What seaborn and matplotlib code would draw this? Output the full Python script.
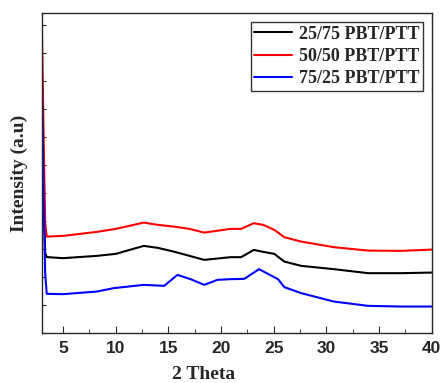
import numpy as np
import pandas as pd
import seaborn as sns
import matplotlib.pyplot as plt
from matplotlib.ticker import MultipleLocator

two_theta_a = [3.0, 3.15, 3.3, 3.45, 5.0, 8.2, 10.0, 12.66, 14.0, 15.5, 17.0, 18.4, 20.9,
               21.9, 23.1, 24.0, 25.05, 26.0, 27.6, 30.7, 33.95, 37.1, 40.0]
two_theta_blue = [3.0, 3.15, 3.3, 3.45, 5.0, 8.2, 9.8, 12.66, 14.6, 15.85, 17.1, 18.4, 19.65,
                  20.9, 22.2, 23.6, 25.4, 26.0, 27.6, 30.7, 33.95, 37.1, 40.0]

# intensities (arbitrary units)
pbt_25_75 = [2600, 1500, 800, 758, 747, 770, 790, 870, 850, 813, 770, 730, 757,
             757, 830, 810, 790, 713, 670, 637, 597, 597, 603]
pbt_50_50 = [2980, 2000, 1100, 963, 970, 1010, 1040, 1103, 1080, 1063, 1040, 1003, 1040,
             1040, 1097, 1080, 1030, 957, 913, 857, 823, 820, 833]
pbt_75_25 = [2480, 1400, 600, 390, 387, 413, 447, 480, 470, 580, 537, 480, 530,
             537, 540, 637, 537, 457, 397, 313, 270, 263, 263]

labels = ["25/75 PBT/PTT", "50/50 PBT/PTT", "75/25 PBT/PTT"]
colors = ["black", "red", "blue"]

df = pd.concat([
    pd.DataFrame({"theta": two_theta_a, "I": pbt_25_75, "blend": labels[0]}),
    pd.DataFrame({"theta": two_theta_a, "I": pbt_50_50, "blend": labels[1]}),
    pd.DataFrame({"theta": two_theta_blue, "I": pbt_75_25, "blend": labels[2]}),
])

sns.set_style("ticks")
plt.rcParams["font.family"] = ["Liberation Serif", "DejaVu Serif"]
plt.rcParams["font.weight"] = "bold"

fig = plt.figure(figsize=(4.42, 3.83), dpi=100)
ax = fig.add_axes([0.095, 0.131, 0.882, 0.835])

sns.lineplot(data=df, x="theta", y="I", hue="blend", palette=colors,
             hue_order=labels, sort=False, linewidth=1.5, ax=ax)

ax.set_xlim(3, 40)
ax.set_ylim(0, 3200)
ax.xaxis.set_major_locator(MultipleLocator(5))
ax.xaxis.set_minor_locator(MultipleLocator(2.5))
ax.yaxis.set_major_locator(MultipleLocator(280))
ax.set_yticklabels([])
ax.tick_params(direction="in", which="both", top=False, right=False)
ax.tick_params(axis="x", labelsize=12.5, length=5, pad=6)
ax.tick_params(axis="x", which="minor", length=3)
ax.tick_params(axis="y", length=3)
for t in ax.get_xticklabels():
    t.set_fontweight("bold")
    t.set_fontfamily(["Liberation Sans", "DejaVu Sans"])
for s in ax.spines.values():
    s.set_linewidth(1.0)

ax.set_xlabel("2 Theta", fontsize=14, fontweight="bold", labelpad=0)
ax.xaxis.set_label_coords(0.415, -0.105)
ax.set_ylabel("Intensity (a.u)", fontsize=14, fontweight="bold")
ax.yaxis.set_label_coords(-0.036, 0.5)

leg = ax.legend(loc="upper right", fontsize=13, frameon=True, fancybox=False,
                edgecolor="black", handlelength=2.1, handletextpad=0.35,
                borderpad=0.2, labelspacing=0.3, borderaxespad=0.5)
leg.get_frame().set_linewidth(1.0)
for t in leg.get_texts():
    t.set_fontweight("bold")

fig.savefig("out.png", dpi=100)
